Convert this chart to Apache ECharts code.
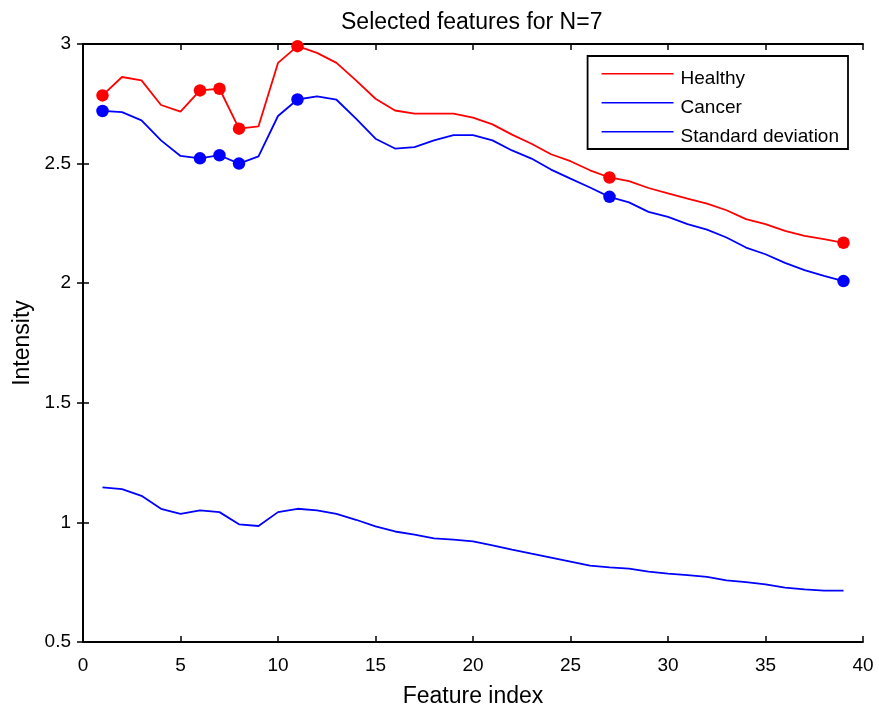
<!DOCTYPE html>
<html>
<head>
<meta charset="utf-8">
<script src="https://cdn.jsdelivr.net/npm/echarts@6/dist/echarts.min.js"></script>
<style>
  html, body { margin: 0; padding: 0; background: #fff; }
  #chart { width: 879px; height: 710px; }
</style>
</head>
<body>
<div id="chart"></div>
<script>
// Feature indices 1..39
const featureIndex = [];
for (let i = 1; i <= 39; i++) featureIndex.push(i);

const healthy = [
  2.785, 2.862, 2.848, 2.745, 2.717, 2.806, 2.813, 2.646, 2.656, 2.921,
  2.991, 2.963, 2.921, 2.848, 2.771, 2.722, 2.709, 2.709, 2.709, 2.692,
  2.664, 2.621, 2.583, 2.539, 2.510, 2.472, 2.442, 2.427, 2.398, 2.376,
  2.354, 2.333, 2.305, 2.268, 2.247, 2.219, 2.198, 2.184, 2.169
];

const cancer = [
  2.720, 2.715, 2.681, 2.597, 2.532, 2.522, 2.535, 2.500, 2.530, 2.699,
  2.768, 2.781, 2.767, 2.688, 2.604, 2.563, 2.569, 2.597, 2.619, 2.619,
  2.597, 2.555, 2.521, 2.475, 2.437, 2.400, 2.361, 2.338, 2.298, 2.277,
  2.247, 2.224, 2.191, 2.149, 2.121, 2.085, 2.055, 2.031, 2.009
];

const stdDev = [
  1.146, 1.139, 1.111, 1.057, 1.036, 1.050, 1.043, 0.992, 0.985, 1.043,
  1.057, 1.050, 1.036, 1.011, 0.983, 0.962, 0.949, 0.933, 0.928, 0.921,
  0.904, 0.886, 0.869, 0.853, 0.836, 0.819, 0.812, 0.807, 0.794, 0.786,
  0.780, 0.772, 0.758, 0.750, 0.741, 0.727, 0.720, 0.715, 0.715
];

// The N=7 selected features
const selected = [1, 6, 7, 8, 11, 27, 39];

const xTicks = { min: 0, max: 40, interval: 5 };
const yTicks = { min: 0.5, max: 3, interval: 0.5 };

const pairs = (vals) => featureIndex.map((x, i) => [x, vals[i]]);
const pick = (vals) => selected.map(x => [x, vals[x - 1]]);

const FONT = 'Liberation Sans';
const chart = echarts.init(document.getElementById('chart'), null, { renderer: 'canvas' });

const frameLine = { show: true, lineStyle: { color: '#000', width: 1.8 } };
const inTick = { show: true, inside: true, length: 6, lineStyle: { color: '#000', width: 1.5 } };

// Legend key: a thin bar sitting slightly above the label's middle line
const legendKey = 'path://M0,0h72v1.6h-72z M0,11h0.01v0.01h-0.01z';

chart.setOption({
  animation: false,
  backgroundColor: '#fff',
  textStyle: { fontFamily: FONT },
  title: {
    text: 'Selected features for N=7',
    left: 336, top: 6,
    textStyle: { fontFamily: FONT, fontSize: 23, fontWeight: 'normal', color: '#000' }
  },
  legend: {
    data: ['Healthy', 'Cancer', 'Standard deviation'],
    orient: 'vertical',
    right: 31, top: 56,
    backgroundColor: '#fff',
    borderColor: '#000', borderWidth: 1.8,
    padding: [13, 9, 3, 14],
    itemWidth: 72, itemHeight: 11, itemGap: 10,
    icon: legendKey,
    textStyle: { fontFamily: FONT, fontSize: 19, color: '#000', padding: [0, 0, 0, 2] }
  },
  grid: { left: 83, right: 16, top: 44, bottom: 68, outerBoundsMode: 'none', containLabel: false },
  xAxis: [{
    type: 'value', position: 'bottom', ...xTicks,
    name: 'Feature index', nameLocation: 'middle', nameGap: 43,
    nameTextStyle: { fontFamily: FONT, fontSize: 23, color: '#000' },
    axisLine: frameLine, axisTick: inTick,
    axisLabel: { fontFamily: FONT, fontSize: 19, color: '#000', margin: 14 },
    splitLine: { show: false }
  }, {
    type: 'value', position: 'top', ...xTicks,
    axisLine: frameLine, axisTick: inTick,
    axisLabel: { show: false }, splitLine: { show: false }
  }],
  yAxis: [{
    type: 'value', position: 'left', ...yTicks,
    name: 'Intensity', nameLocation: 'middle', nameGap: 49,
    nameTextStyle: { fontFamily: FONT, fontSize: 23, color: '#000' },
    axisLine: frameLine, axisTick: inTick,
    axisLabel: { fontFamily: FONT, fontSize: 19, color: '#000', margin: 12 },
    splitLine: { show: false }
  }, {
    type: 'value', position: 'right', ...yTicks,
    axisLine: frameLine, axisTick: inTick,
    axisLabel: { show: false }, splitLine: { show: false }
  }],
  series: [
    {
      name: 'Healthy', type: 'line', data: pairs(healthy),
      showSymbol: false, symbol: 'none', color: '#ff0000',
      lineStyle: { color: '#ff0000', width: 1.8 }, z: 3
    },
    {
      name: 'Cancer', type: 'line', data: pairs(cancer),
      showSymbol: false, symbol: 'none', color: '#0000ff',
      lineStyle: { color: '#0000ff', width: 1.8 }, z: 3
    },
    {
      name: 'Standard deviation', type: 'line', data: pairs(stdDev),
      showSymbol: false, symbol: 'none', color: '#0000ff',
      lineStyle: { color: '#0000ff', width: 1.8 }, z: 3
    },
    {
      name: 'Healthy selected', type: 'scatter', data: pick(healthy),
      symbol: 'circle', symbolSize: 12.5,
      itemStyle: { color: '#ff0000', opacity: 1 }, z: 4
    },
    {
      name: 'Cancer selected', type: 'scatter', data: pick(cancer),
      symbol: 'circle', symbolSize: 12.5,
      itemStyle: { color: '#0000ff', opacity: 1 }, z: 4
    }
  ]
});
</script>
</body>
</html>
